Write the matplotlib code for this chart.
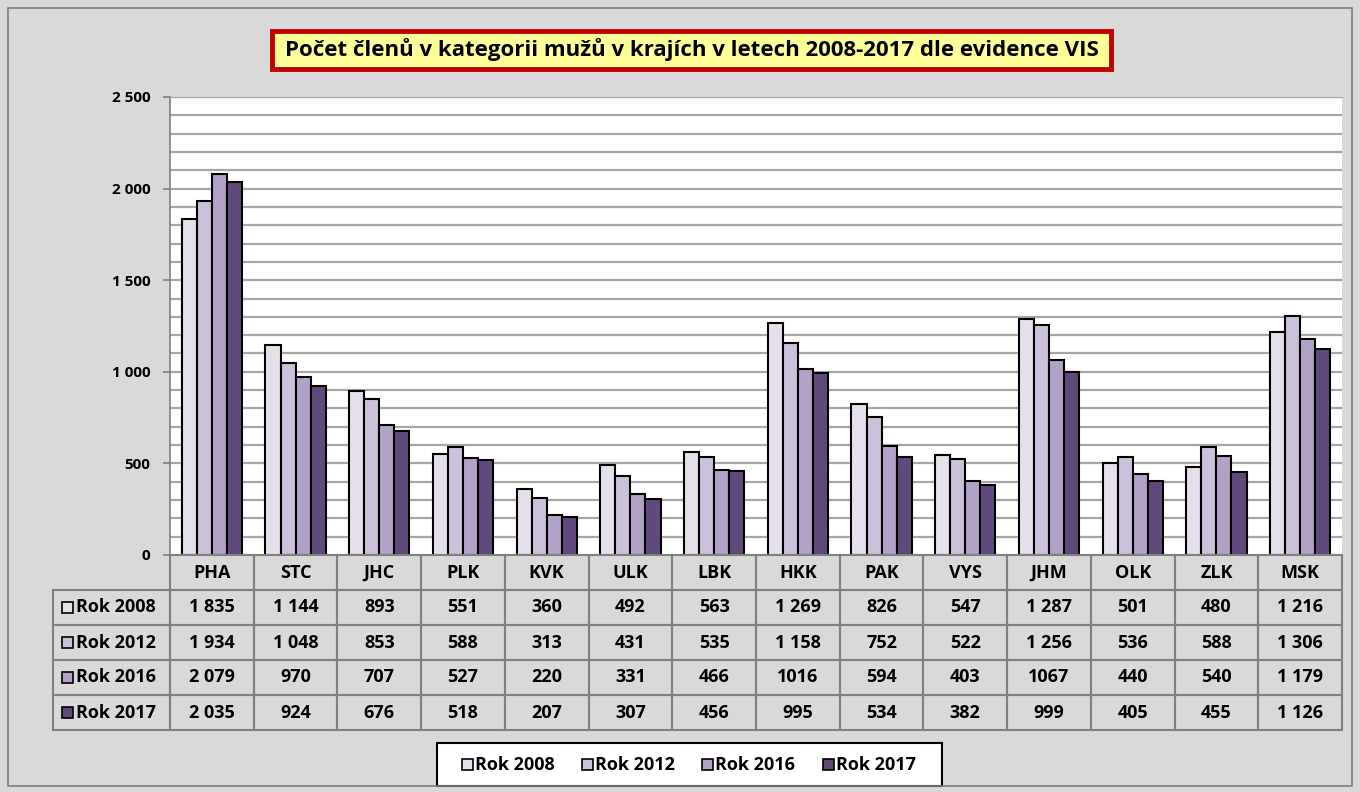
import matplotlib
matplotlib.use("Agg")
import matplotlib.pyplot as plt
from matplotlib.patches import Rectangle
import numpy as np

plt.rcParams['font.family'] = ['Open Sans', 'DejaVu Sans']
plt.rcParams['font.weight'] = 'bold'

categories = ["PHA", "STC", "JHC", "PLK", "KVK", "ULK", "LBK", "HKK", "PAK", "VYS", "JHM", "OLK", "ZLK", "MSK"]
series_names = ["Rok 2008", "Rok 2012", "Rok 2016", "Rok 2017"]
rok2008 = [1835, 1144, 893, 551, 360, 492, 563, 1269, 826, 547, 1287, 501, 480, 1216]
rok2012 = [1934, 1048, 853, 588, 313, 431, 535, 1158, 752, 522, 1256, 536, 588, 1306]
rok2016 = [2079, 970, 707, 527, 220, 331, 466, 1016, 594, 403, 1067, 440, 540, 1179]
rok2017 = [2035, 924, 676, 518, 207, 307, 456, 995, 534, 382, 999, 405, 455, 1126]
table_text = [
    ["1 835", "1 144", "893", "551", "360", "492", "563", "1 269", "826", "547", "1 287", "501", "480", "1 216"],
    ["1 934", "1 048", "853", "588", "313", "431", "535", "1 158", "752", "522", "1 256", "536", "588", "1 306"],
    ["2 079", "970", "707", "527", "220", "331", "466", "1016", "594", "403", "1067", "440", "540", "1 179"],
    ["2 035", "924", "676", "518", "207", "307", "456", "995", "534", "382", "999", "405", "455", "1 126"],
]
yticks = [0, 500, 1000, 1500, 2000, 2500]
ytick_labels = ["0", "500", "1 000", "1 500", "2 000", "2 500"]
colors = ["#E6E0EC", "#CCC1DA", "#B3A2C7", "#604A7B"]
series = [rok2008, rok2012, rok2016, rok2017]

W, H = 1360, 792
fig = plt.figure(figsize=(13.6, 7.92), dpi=100)
fig.patch.set_facecolor("#D9D9D9")

def fx(px):
    return px / W

def fy(py):
    return 1 - py / H

# outer border
fig.add_artist(Rectangle((fx(8), fy(786)), fx(1352) - fx(8), fy(8) - fy(786),
                         transform=fig.transFigure, fill=False, edgecolor="#808080", lw=1.2))

x0, x1 = 170, 1342
ytop, ybot = 97, 555
ax = fig.add_axes([fx(x0), fy(ybot), fx(x1) - fx(x0), fy(ytop) - fy(ybot)])
ax.set_facecolor("white")
n = len(categories)
ax.set_xlim(0, n)
ax.set_ylim(0, 2500)
for v in range(100, 2501, 100):
    ax.axhline(v, color="#A6A6A6", lw=1.6, zorder=1)

bw = 0.18
x = np.arange(n) + 0.5
offsets = [-1.5, -0.5, 0.5, 1.5]
for s, c, o, name in zip(series, colors, offsets, series_names):
    ax.bar(x + o * bw, s, width=bw, color=c, edgecolor="black", lw=1.5, zorder=3, label=name)

ax.set_xticks([])
ax.set_yticks(yticks)
ax.set_yticklabels(ytick_labels, fontsize=11, fontweight="bold")
ax.tick_params(axis="y", length=5, width=1.2, color="#808080", pad=9)
for sp in ["right", "bottom"]:
    ax.spines[sp].set_visible(False)
ax.spines["left"].set_color("#808080")
ax.spines["left"].set_linewidth(1.2)
ax.spines["top"].set_color("#A6A6A6")

# table
tx0 = 53
rows_y = [555, 590, 625, 660, 695, 730]
tab = fig.add_axes([0, 0, 1, 1], facecolor="none")
tab.set_xlim(0, W)
tab.set_ylim(H, 0)
tab.axis("off")
cw = (x1 - x0) / n
grid_c = "#808080"
fs = 13
# header row
for i, cat in enumerate(categories):
    cx = x0 + i * cw
    tab.add_patch(Rectangle((cx, rows_y[0]), cw, rows_y[1] - rows_y[0], fill=False, edgecolor=grid_c, lw=1.5))
    tab.text(cx + cw / 2, (rows_y[0] + rows_y[1]) / 2, cat, ha="center", va="center", fontsize=fs, fontweight="bold")
for r in range(4):
    ya, yb = rows_y[r + 1], rows_y[r + 2]
    tab.add_patch(Rectangle((tx0, ya), x0 - tx0, yb - ya, fill=False, edgecolor=grid_c, lw=1.5))
    tab.add_patch(Rectangle((tx0 + 9, (ya + yb) / 2 - 5.5), 11, 11, facecolor=colors[r], edgecolor="black", lw=1.2))
    tab.text(tx0 + 23, (ya + yb) / 2, series_names[r], ha="left", va="center", fontsize=fs, fontweight="bold")
    for i in range(n):
        cx = x0 + i * cw
        tab.add_patch(Rectangle((cx, ya), cw, yb - ya, fill=False, edgecolor=grid_c, lw=1.5))
        tab.text(cx + cw / 2, (ya + yb) / 2, table_text[r][i], ha="center", va="center", fontsize=fs, fontweight="bold")

# legend
lx0, lx1, ly0, ly1 = 437, 942, 743, 786
tab.add_patch(Rectangle((lx0, ly0), lx1 - lx0, ly1 - ly0, facecolor="white", edgecolor="black", lw=1.5))
item_x = [462, 582, 702, 823]
for k in range(4):
    cy = (ly0 + ly1) / 2
    tab.add_patch(Rectangle((item_x[k], cy - 5.5), 11, 11, facecolor=colors[k], edgecolor="black", lw=1.2))
    tab.text(item_x[k] + 13, cy, series_names[k], ha="left", va="center", fontsize=fs, fontweight="bold")

# title
tab.add_patch(Rectangle((272, 31), 1111 - 272, 69 - 31, facecolor="#FFFF99", edgecolor="#C00000", lw=3.5))
tab.text((272 + 1111) / 2, 50, "Počet členů v kategorii mužů v krajích v letech 2008-2017 dle evidence VIS",
         ha="center", va="center", fontsize=16, fontweight="bold")

fig.savefig("out.png", dpi=100, facecolor=fig.get_facecolor())
